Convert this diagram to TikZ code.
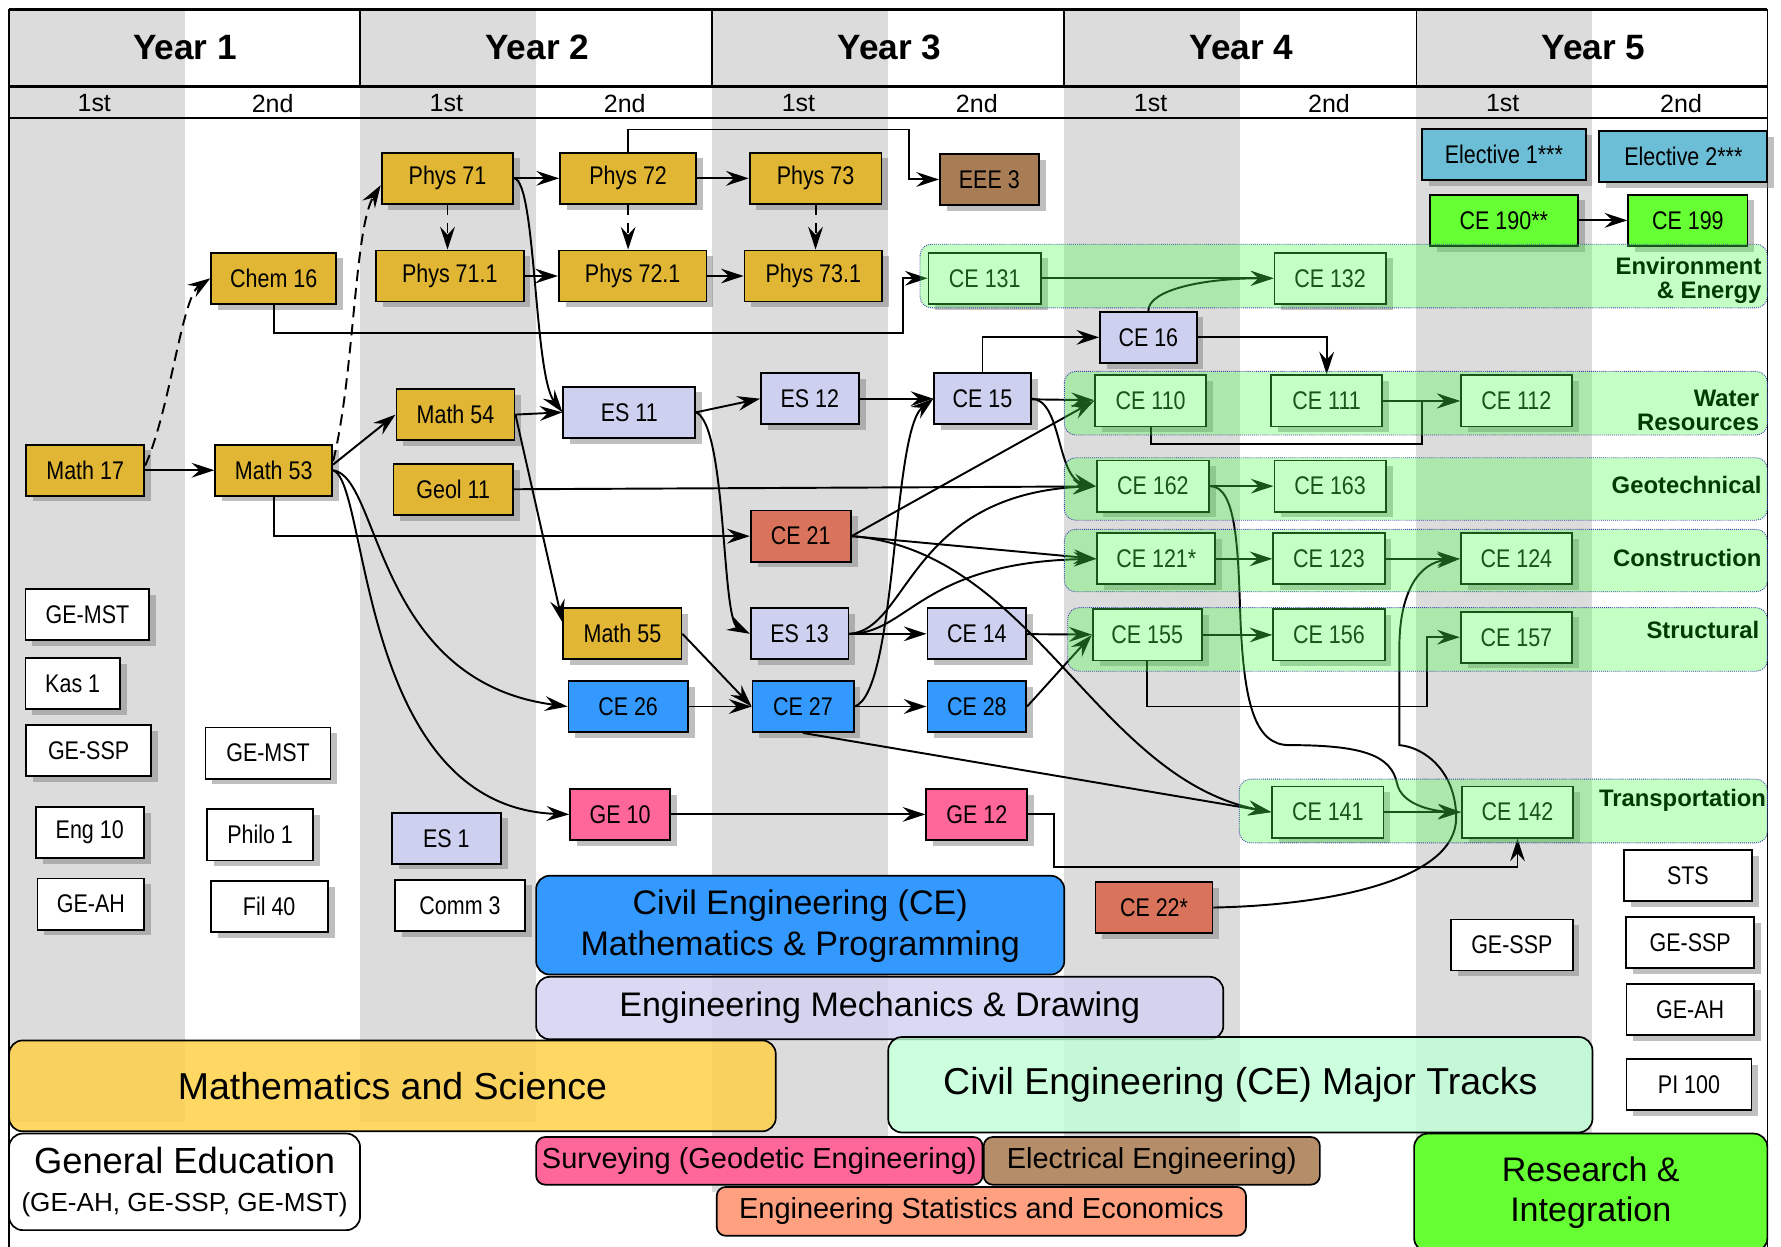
\documentclass[tikz,border=0pt]{standalone}
\usepackage{fontspec}
\setmainfont{Liberation Sans}
\newfontfamily\coursefont{Liberation Sans}[FakeStretch=0.84]
\usetikzlibrary{arrows.meta,shadows}

\definecolor{stripe}{RGB}{220,220,220}
\definecolor{scicol}{RGB}{224,182,52}
\definecolor{lavcol}{RGB}{205,208,238}
\definecolor{cecol}{RGB}{51,153,255}
\definecolor{salcol}{RGB}{217,115,91}
\definecolor{pinkcol}{RGB}{255,102,153}
\definecolor{browncol}{RGB}{168,125,86}
\definecolor{eleccol}{RGB}{108,190,214}
\definecolor{rescol}{RGB}{102,255,51}
\definecolor{trackgreen}{RGB}{77,255,77}
\definecolor{trackline}{RGB}{60,60,170}
\definecolor{trackfont}{RGB}{0,60,0}
\definecolor{legsci}{RGB}{255,208,72}
\definecolor{legmech}{RGB}{210,210,242}
\definecolor{legmajor}{RGB}{190,255,214}
\definecolor{legelec}{RGB}{181,141,105}
\definecolor{legstat}{RGB}{255,160,128}

\begin{document}
\begin{tikzpicture}[x=1pt, y=-1pt,
    course/.style={draw=black, line width=1.6pt, fill=white, minimum height=45pt, inner sep=1pt,
        font=\coursefont\fontsize{22.5}{24}\selectfont,
        drop shadow={shadow xshift=6pt, shadow yshift=-5pt, opacity=0.5}},
    sci/.style={course, fill=scicol},
    mech/.style={course, fill=lavcol},
    cemp/.style={course, fill=cecol},
    eco/.style={course, fill=salcol},
    surv/.style={course, fill=pinkcol},
    elec/.style={course, fill=browncol},
    major/.style={course},
    elective/.style={course, fill=eleccol},
    resint/.style={course, fill=rescol},
    arr/.style={-{Stealth[length=20pt, width=13pt, inset=7pt]}, line width=1.7pt},
    longdash/.style={dash pattern=on 10pt off 6pt},
    legend/.style={draw=black, line width=1.5pt, rounded corners=12pt, align=center, text opacity=1},
    track/.style={draw=trackline, densely dotted, line width=0.8pt, rounded corners=10pt,
        fill=trackgreen, fill opacity=0.33},
    tracklabel/.style={anchor=east, align=right, inner sep=0pt, text=trackfont,
        font=\bfseries\fontsize{21}{21}\selectfont},
    sem/.style={font=\fontsize{22}{24}\selectfont}
]
    \useasboundingbox (0,0) rectangle (1568,1097);

    \foreach \x/\b in {8/988, 317/988, 627/1049, 937/1049, 1247/1049}
        \fill[stripe] (\x,8) rectangle ({\x+155},\b);

    \draw[line width=2.5pt] (8,8) -- (1556,8);
    \draw[line width=3pt] (8,76) -- (1556,76);
    \draw[line width=2pt] (8,104) -- (1556,104);
    \foreach \x in {317,627,937,1247}
        \draw[line width=1.5pt] (\x,8) -- (\x,76);
    \draw[line width=1.5pt] (8,8) -- (8,1100);
    \draw[line width=1.5pt] (1556,8) -- (1556,1100);

    \foreach \n in {1,...,5} {
        \node[font=\bfseries\fontsize{31}{33}\selectfont] (year\n) at ({310*\n-147},42) {Year \n};
        \node[sem] (sema\n) at ({310*\n-227},91) {1st};
        \node[sem] (semb\n) at ({310*\n-70},91) {2nd};
    }

    % legend
    \node[legend, fill=cecol, minimum width=465pt, minimum height=87pt, text depth=4pt, font=\fontsize{30}{36}\selectfont] (lgce) at (704.5,814.5) {Civil Engineering (CE)\\Mathematics \& Programming};
    \node[legend, fill=legmech, fill opacity=0.85, minimum width=605pt, minimum height=55pt, font=\fontsize{30}{32}\selectfont] (lgmech) at (774.5,887.5) {Engineering Mechanics \& Drawing};
    \node[legend, fill=legsci, fill opacity=0.85, minimum width=675pt, minimum height=80pt, font=\fontsize{33}{35}\selectfont] (lgsci) at (345.5,956) {Mathematics and Science};
    \node[legend, fill=legmajor, fill opacity=0.8, minimum width=620pt, minimum height=84pt, font=\fontsize{33}{35}\selectfont] (lgmajor) at (1092,955) {Civil Engineering (CE) Major Tracks};
    \node[legend, fill=white, minimum width=309pt, minimum height=85pt, font=\fontsize{32}{34}\selectfont] (lgge) at (162.5,1040.5) {General Education\\{\fontsize{23}{26}\selectfont (GE-AH, GE-SSP, GE-MST)}};
    \node[legend, rounded corners=8pt, fill=pinkcol, minimum width=393pt, minimum height=42pt, font=\fontsize{25.5}{28}\selectfont] (lgsurv) at (668.5,1022) {Surveying (Geodetic Engineering)};
    \node[legend, rounded corners=8pt, fill=legelec, minimum width=296pt, minimum height=42pt, font=\fontsize{25.5}{28}\selectfont] (lgelec) at (1014,1022) {Electrical Engineering)};
    \node[legend, rounded corners=8pt, fill=legstat, minimum width=466pt, minimum height=43pt, font=\fontsize{25.5}{28}\selectfont] (lgstat) at (864,1066.5) {Engineering Statistics and Economics};
    \node[legend, fill=rescol, minimum width=311pt, minimum height=104pt, font=\fontsize{30}{36}\selectfont] (lgres) at (1400.5,1050) {Research \&\\Integration};

    % year 1
    \node[sci, minimum width=104pt] (m17) at (75,414) {Math 17};
    \node[sci, minimum width=103pt] (m53) at (241,414) {Math 53};
    \node[sci, minimum width=110pt] (chem16) at (241,245) {Chem 16};
    \node[course, minimum width=109pt] (gemst1) at (77,541) {GE-MST};
    \node[course, minimum width=83pt] (kas1) at (64,602) {Kas 1};
    \node[course, minimum width=110pt] (gessp1) at (78,661) {GE-SSP};
    \node[course, minimum width=95pt] (eng10) at (79,733) {Eng 10};
    \node[course, minimum width=94pt] (geah1) at (80,796) {GE-AH};
    \node[course, minimum width=110pt] (gemst2) at (236,663) {GE-MST};
    \node[course, minimum width=93pt] (philo1) at (229,735) {Philo 1};
    \node[course, minimum width=103pt] (fil40) at (237,798) {Fil 40};

    % year 2
    \node[sci, minimum width=116pt] (ph71) at (394,157) {Phys 71};
    \node[sci, minimum width=130pt] (ph711) at (396,243) {Phys 71.1};
    \node[sci, minimum width=120pt] (ph72) at (553,157) {Phys 72};
    \node[sci, minimum width=130pt] (ph721) at (557,243) {Phys 72.1};
    \node[sci, minimum width=104pt] (m54) at (401,365) {Math 54};
    \node[sci, minimum width=105pt] (geol11) at (399,431) {Geol 11};
    \node[mech, minimum width=116pt] (es11) at (554,363) {ES 11};
    \node[sci, minimum width=104pt] (m55) at (548,558) {Math 55};
    \node[cemp, minimum width=105pt] (ce26) at (553,622) {CE 26};
    \node[surv, minimum width=88pt] (ge10) at (546,717) {GE 10};
    \node[mech, minimum width=96pt] (es1) at (393,738) {ES 1};
    \node[course, minimum width=114pt] (comm3) at (405,797) {Comm 3};

    % year 3
    \node[sci, minimum width=116pt] (ph73) at (718,157) {Phys 73};
    \node[sci, minimum width=121pt] (ph731) at (716,243) {Phys 73.1};
    \node[elec, minimum width=87pt] (eee3) at (871,158) {EEE 3};
    \node[mech, minimum width=86pt] (es12) at (713,351) {ES 12};
    \node[mech, minimum width=85pt] (ce15) at (865,351) {CE 15};
    \node[eco, minimum width=88pt] (ce21) at (705,472) {CE 21};
    \node[mech, minimum width=86pt] (es13) at (704,558) {ES 13};
    \node[mech, minimum width=87pt] (ce14) at (860,558) {CE 14};
    \node[cemp, minimum width=89pt] (ce27) at (707,622) {CE 27};
    \node[cemp, minimum width=87pt] (ce28) at (860,622) {CE 28};
    \node[surv, minimum width=89pt] (ge12) at (860,717) {GE 12};
    \node[major, minimum width=99pt] (ce131) at (867,245) {CE 131};

    % year 4
    \node[mech, minimum width=85pt] (ce16) at (1011,297) {CE 16};
    \node[eco, minimum width=103pt] (ce22) at (1016,799) {CE 22*};
    \node[major, minimum width=98pt] (ce132) at (1171,245) {CE 132};
    \node[major, minimum width=98pt] (ce110) at (1013,353) {CE 110};
    \node[major, minimum width=98pt] (ce111) at (1168,353) {CE 111};
    \node[major, minimum width=99pt] (ce162) at (1015,428) {CE 162};
    \node[major, minimum width=98pt] (ce163) at (1171,428) {CE 163};
    \node[major, minimum width=104pt] (ce121) at (1018,492) {CE 121*};
    \node[major, minimum width=98pt] (ce123) at (1170,492) {CE 123};
    \node[major, minimum width=96pt] (ce155) at (1010,559) {CE 155};
    \node[major, minimum width=98pt] (ce156) at (1170,559) {CE 156};
    \node[major, minimum width=98pt] (ce141) at (1169,715) {CE 141};

    % year 5
    \node[elective, minimum width=144pt] (elec1) at (1324,136) {Elective 1***};
    \node[elective, minimum width=148pt] (elec2) at (1482,138) {Elective 2***};
    \node[resint, minimum width=130pt] (ce190) at (1324,194) {CE 190**};
    \node[resint, minimum width=105pt] (ce199) at (1486,194) {CE 199};
    \node[major, minimum width=98pt] (ce112) at (1335,353) {CE 112};
    \node[major, minimum width=98pt] (ce124) at (1335,492) {CE 124};
    \node[major, minimum width=98pt] (ce157) at (1335,561) {CE 157};
    \node[major, minimum width=98pt] (ce142) at (1336,715) {CE 142};
    \node[course, minimum width=107pt] (gessp5a) at (1331,832) {GE-SSP};
    \node[course, minimum width=113pt] (sts) at (1486,771) {STS};
    \node[course, minimum width=113pt] (gessp5b) at (1488,830) {GE-SSP};
    \node[course, minimum width=112pt] (geah5) at (1488,889) {GE-AH};
    \node[course, minimum width=110pt] (pi100) at (1487,955) {PI 100};

    % prerequisites
    \draw[arr] (m17) -- (m53);
    \draw[arr, longdash] ([yshift=4pt]m17.east) .. controls (150,360) and (160,262) .. (chem16.west);
    \draw[arr, longdash] ([yshift=8pt]m53.east) .. controls (312,330) and (312,200) .. ([yshift=-6pt]ph71.west);
    \draw[arr] ([yshift=5pt]m53.east) -- (m54.west);
    \draw[arr] (m53) |- (ce21);
    \draw[arr] (m53.east) .. controls (335,420) and (330,600) .. (ce26.west);
    \draw[arr] (m53.east) .. controls (325,425) and (315,710) .. (ge10.west);
    \draw[arr] (chem16) |- (795,293) |- (ce131);

    \draw[arr] (ph71) -- (ph72);
    \draw[arr] (ph72) -- (ph73);
    \draw[arr] (ph711) -- (ph721);
    \draw[arr] (ph721) -- (ph731);
    \draw[arr] (ph72) |- (800,114) |- (eee3);
    \draw[arr, dash pattern=on 9pt off 7pt] (ph71.south) -- (ph71.south |- ph711.north);
    \draw[arr, dash pattern=on 9pt off 7pt] (ph72.south) -- (ph72.south |- ph721.north);
    \draw[arr, dash pattern=on 9pt off 7pt] (ph73.south) -- (ph73.south |- ph731.north);
    \draw[arr] (ph71.east) .. controls (472,160) and (470,330) .. (es11.west);

    \draw[arr] (m54.east) -- (es11.west);
    \draw[arr] (m54.east) -- ([yshift=10pt]m55.west);
    \draw[arr] (geol11) -- (ce162);
    \draw[arr] (es11.east) -- (es12.west);
    \draw[arr] (es11.east) .. controls (640,375) and (635,545) .. (es13.west);
    \draw[arr] (es12) -- (ce15);
    \draw[arr] (ce15) |- (ce16);
    \draw[arr] (ce15) -- (ce110);
    \draw[arr] (ce15.east) .. controls (935,352) and (930,420) .. (ce162.west);
    \draw[arr] (ce16) -| (ce111);
    \draw[arr] (ce16.north) .. controls (1011,255) and (1060,245) .. (ce132.west);
    \draw[arr] (ce131) -- (ce132);

    \draw[arr] (ce21.east) -- (ce110.west);
    \draw[arr] (ce21.east) -- (ce121.west);
    \draw[arr] (ce21.east) .. controls (910,485) and (965,685) .. (ce141.west);
    \draw[arr] (es13) -- (ce14);
    \draw[arr] (es13.east) .. controls (800,555) and (800,435) .. (ce162.west);
    \draw[arr] (es13.east) .. controls (800,558) and (810,495) .. (ce121.west);
    \draw[arr] (ce27.east) .. controls (790,610) and (785,380) .. (ce15.west);
    \draw[arr] (ce26) -- (ce27);
    \draw[arr] (m55.east) -- (ce27.west);
    \draw[arr] (ce27) -- (ce28);
    \draw[arr] (ce27.south) -- (ce141.west);
    \draw[arr] (ce14) -- (ce155);
    \draw[arr] (ce28.east) -- (ce155.west);
    \draw[arr] (ge10) -- (ge12);
    \draw[arr] (ge12) -| (928,763) -| (ce142);
    \draw[arr] (ce22.east) .. controls (1170,797) and (1282,775) .. (1282,720)
        .. controls (1282,680) and (1255,658) .. (1232,656) -- (1232,570)
        .. controls (1232,520) and (1250,495) .. (ce124.west);

    \draw[arr] (ce162) -- (ce163);
    \draw[arr] (ce162.east) .. controls (1088,428) and (1090,480) .. (1092,543)
        .. controls (1095,620) and (1105,656) .. (1135,656)
        .. controls (1200,656) and (1225,665) .. (1230,690)
        .. controls (1234,708) and (1260,714) .. (ce142.west);
    \draw[arr] (ce121) -- (ce123);
    \draw[arr] (ce123) -- (ce124);
    \draw[arr] (ce155) -- (ce156);
    \draw[arr] (ce155) |- (1256,622) |- (ce157);
    \draw[arr] (ce110) |- (1252,391) |- (ce112);
    \draw[arr] (ce111) -- (ce112);
    \draw[arr] (ce141) -- (ce142);
    \draw[arr] (ce190) -- (ce199);

    % major tracks
    \draw[track] (810,215) rectangle (1556,271);
    \draw[track] (937,327) rectangle (1556,383);
    \draw[track] (937,403) rectangle (1556,458);
    \draw[track] (937,466) rectangle (1556,521);
    \draw[track] (940,535) rectangle (1556,591);
    \draw[track] (1091,686) rectangle (1556,742);

    \node[tracklabel] (lbenv) at (1551,247) {Environment\\\& Energy};
    \node[tracklabel] (lbwat) at (1549,361) {Water\\Resources};
    \node[tracklabel] (lbgeo) at (1551,427) {Geotechnical};
    \node[tracklabel] (lbcon) at (1551,491) {Construction};
    \node[tracklabel] (lbstr) at (1549,555) {Structural};
    \node[tracklabel] (lbtra) at (1555,705) {Transportation};
\end{tikzpicture}
\end{document}
